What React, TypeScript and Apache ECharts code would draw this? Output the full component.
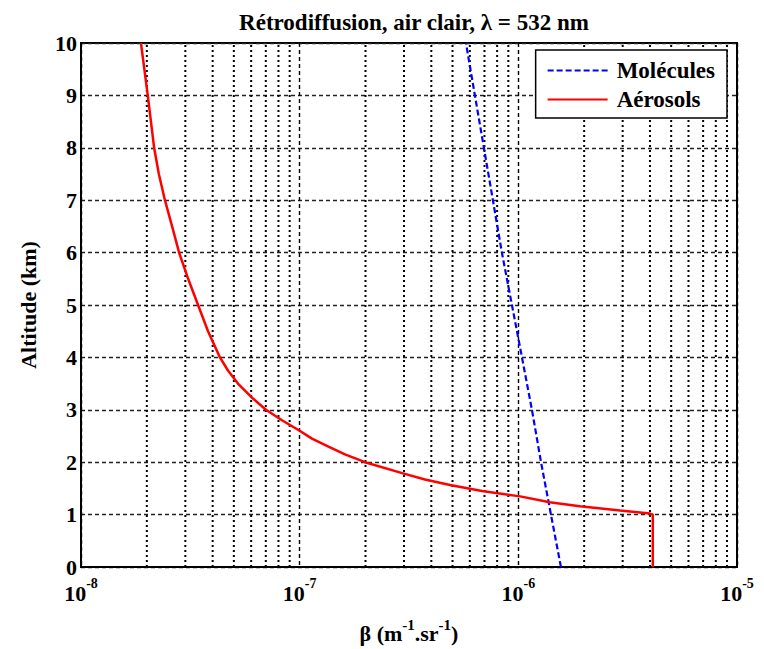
import React, { useEffect, useRef } from "react";
import * as echarts from "echarts";

const titleText = "Rétrodiffusion, air clair, λ = 532 nm";
const seriesNames = ["Molécules", "Aérosols"];

// Molecular backscatter (m^-1 sr^-1) vs altitude (km)
const molAltitude = [0, 1, 2, 3, 4, 5, 6, 7, 8, 9, 10];
const molBeta = [1.566e-6, 1.41e-6, 1.27e-6, 1.154e-6, 1.039e-6, 9.35e-7, 8.41e-7, 7.65e-7, 6.96e-7, 6.33e-7, 5.76e-7];

// Aerosol backscatter (m^-1 sr^-1) vs altitude (km)
const aerAltitude = [0, 1.0, 1.02, 1.077, 1.16, 1.235, 1.348, 1.45, 1.566, 1.67, 1.786, 2.0, 2.15, 2.3, 2.45, 2.6, 2.8, 3.0, 3.25, 3.5, 3.75, 4.0, 4.5, 5, 5.5, 6, 6.5, 7, 7.5, 8, 9, 10];
const aerBeta = [4.12e-6, 4.12e-6, 4.0e-6, 2.92e-6, 1.91e-6, 1.39e-6, 1.02e-6, 6.82e-7, 4.87e-7, 3.74e-7, 2.97e-7, 1.99e-7, 1.611e-7, 1.347e-7, 1.138e-7, 1.0e-7, 8.3e-8, 7.01e-8, 5.99e-8, 5.22e-8, 4.7e-8, 4.32e-8, 3.81e-8, 3.43e-8, 3.09e-8, 2.81e-8, 2.61e-8, 2.42e-8, 2.27e-8, 2.16e-8, 2.02e-8, 1.88e-8];

const xMin = 1e-8;
const xMax = 1e-5;
const yMin = 0;
const yMax = 10;
const yInterval = 1;
const decades = [1e-8, 1e-7, 1e-6];
const minorMultipliers = [2, 3, 4, 5, 6, 7, 8, 9];

const FONT = "'Liberation Serif', 'Times New Roman', Times, serif";

export default function App() {
  const ref = useRef<HTMLDivElement>(null);
  useEffect(() => {
    document.body.style.margin = "0";
    if (!ref.current) return;
    const chart = echarts.init(ref.current, null, { renderer: "svg" });
    const minorGrid: number[][] = [];
    decades.forEach((d) => minorMultipliers.forEach((m) => minorGrid.push([m * d])));

    const option: any = {
      animation: false,
      backgroundColor: "#fff",
      textStyle: { fontFamily: FONT },
      title: {
        text: titleText,
        left: 409,
        top: 6,
        textAlign: "center",
        textStyle: { fontFamily: FONT, fontWeight: "bold", fontSize: 23, color: "#000" },
      },
      legend: {
        data: seriesNames,
        orient: "vertical",
        right: 37,
        top: 50,
        itemWidth: 60,
        itemHeight: 14,
        itemGap: 6,
        padding: [9, 12, 7, 11],
        borderColor: "#000",
        borderWidth: 1.5,
        backgroundColor: "#fff",
        itemStyle: { opacity: 0 },
        textStyle: { fontFamily: FONT, fontWeight: "bold", fontSize: 23, color: "#000", padding: [0, 0, 0, 4] },
      },
      grid: {
        left: 81,
        right: 27,
        top: 43,
        bottom: 74,
        show: true,
        borderColor: "#000",
        borderWidth: 2,
        backgroundColor: "#fff",
      },
      xAxis: {
        type: "log",
        logBase: 10,
        min: xMin,
        max: xMax,
        name: "{n|β (m}{s|-1}{n|.sr}{s|-1}{n|)}",
        nameLocation: "middle",
        nameGap: 50,
        nameTextStyle: {
          rich: {
            n: { fontFamily: FONT, fontWeight: "bold", fontSize: 22, color: "#000", verticalAlign: "bottom" },
            s: { fontFamily: FONT, fontWeight: "bold", fontSize: 15, color: "#000", verticalAlign: "bottom", padding: [0, 0, 12, 0] },
          },
        },
        axisLine: { show: true, lineStyle: { color: "#000", width: 2 } },
        axisTick: { show: false },
        axisLabel: {
          margin: 9,
          formatter: (v: number) => `{b|10}{s|${Math.round(Math.log10(v))}}`,
          rich: {
            b: { fontFamily: FONT, fontWeight: "bold", fontSize: 22, color: "#000", verticalAlign: "bottom" },
            s: { fontFamily: FONT, fontWeight: "bold", fontSize: 14, color: "#000", verticalAlign: "bottom", padding: [0, 0, 14, 0] },
          },
        },
        splitLine: { show: true, lineStyle: { color: "#000", width: 1.4, type: [4, 3] } },
      },
      yAxis: {
        type: "value",
        min: yMin,
        max: yMax,
        interval: yInterval,
        name: "Altitude (km)",
        nameLocation: "middle",
        nameGap: 42,
        nameTextStyle: { fontFamily: FONT, fontWeight: "bold", fontSize: 22, color: "#000" },
        axisLine: { show: true, lineStyle: { color: "#000", width: 2 } },
        axisTick: { show: false },
        axisLabel: { margin: 4, fontFamily: FONT, fontWeight: "bold", fontSize: 22, color: "#000" },
        splitLine: { show: true, lineStyle: { color: "#222", width: 1.3, type: [4, 3] } },
      },
      series: [
        {
          name: "minorGrid",
          type: "custom",
          silent: true,
          z: 1,
          data: minorGrid,
          encode: { x: 0 },
          renderItem: (params: any, api: any) => {
            const v = api.value(0);
            const p1 = api.coord([v, yMin]);
            const p2 = api.coord([v, yMax]);
            return {
              type: "line",
              shape: { x1: p1[0], y1: p1[1], x2: p2[0], y2: p2[1] },
              style: { stroke: "#000", lineWidth: 2, lineDash: [2, 3] },
            };
          },
        },
        {
          name: seriesNames[0],
          type: "line",
          data: molAltitude.map((a, i) => [molBeta[i], a]),
          showSymbol: false,
          symbol: "none",
          z: 3,
          lineStyle: { color: "#0000ff", width: 2.2, type: [6, 3] },
          itemStyle: { color: "#0000ff" },
        },
        {
          name: seriesNames[1],
          type: "line",
          data: aerAltitude.map((a, i) => [aerBeta[i], a]),
          showSymbol: false,
          symbol: "none",
          z: 3,
          lineStyle: { color: "#ff0000", width: 2.5 },
          itemStyle: { color: "#ff0000" },
        },
      ],
    };
    chart.setOption(option);
    return () => chart.dispose();
  }, []);
  return <div ref={ref} style={{ width: 764, height: 649 }} />;
}
